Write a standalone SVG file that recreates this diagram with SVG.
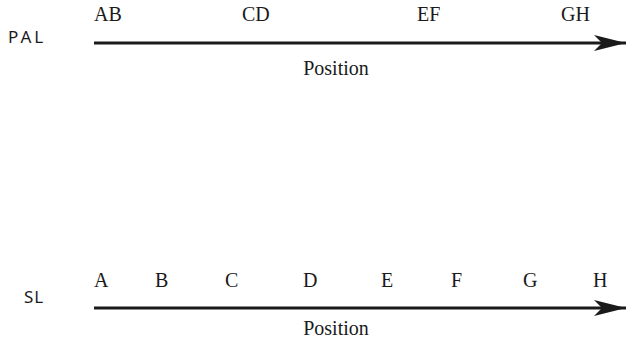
<svg xmlns="http://www.w3.org/2000/svg" width="626" height="344" viewBox="0 0 626 344">
  <style>
    .axis { stroke: #1a1a1a; stroke-width: 3; fill: none; }
    .lbl { font-family: "Liberation Serif", "Times New Roman", serif; font-size: 20px; fill: #1a1a1a; }
    .side { font-family: "Noto Sans", "Liberation Sans", sans-serif; font-size: 17px; fill: #1a1a1a; }
  </style>
  <defs>
    <marker id="arrow" viewBox="0 0 32 16" refX="32" refY="8" markerWidth="32" markerHeight="16" markerUnits="userSpaceOnUse" orient="auto">
      <path d="M0,0 L32,8 L0,16 L8,8 Z" fill="#1a1a1a"/>
    </marker>
  </defs>

  <!-- axes -->
  <g id="connectors">
    <line class="axis" x1="94" y1="43" x2="626" y2="43" marker-end="url(#arrow)"/>
    <line class="axis" x1="94" y1="308" x2="626" y2="308" marker-end="url(#arrow)"/>
  </g>

  <!-- paired-allele layout -->
  <g id="pal">
    <text class="side" x="8" y="43" letter-spacing="3">PAL</text>
    <text class="lbl" x="94" y="21">AB</text>
    <text class="lbl" x="242" y="21">CD</text>
    <text class="lbl" x="417" y="21">EF</text>
    <text class="lbl" x="561" y="21">GH</text>
    <text class="lbl" x="336" y="75" text-anchor="middle">Position</text>
  </g>

  <!-- single layout -->
  <g id="sl">
    <text class="side" x="24" y="303" letter-spacing="1">SL</text>
    <text class="lbl" x="94" y="287">A</text>
    <text class="lbl" x="155" y="287">B</text>
    <text class="lbl" x="225" y="287">C</text>
    <text class="lbl" x="303" y="287">D</text>
    <text class="lbl" x="381" y="287">E</text>
    <text class="lbl" x="451" y="287">F</text>
    <text class="lbl" x="523" y="287">G</text>
    <text class="lbl" x="593" y="287">H</text>
    <text class="lbl" x="336" y="335" text-anchor="middle">Position</text>
  </g>
</svg>
